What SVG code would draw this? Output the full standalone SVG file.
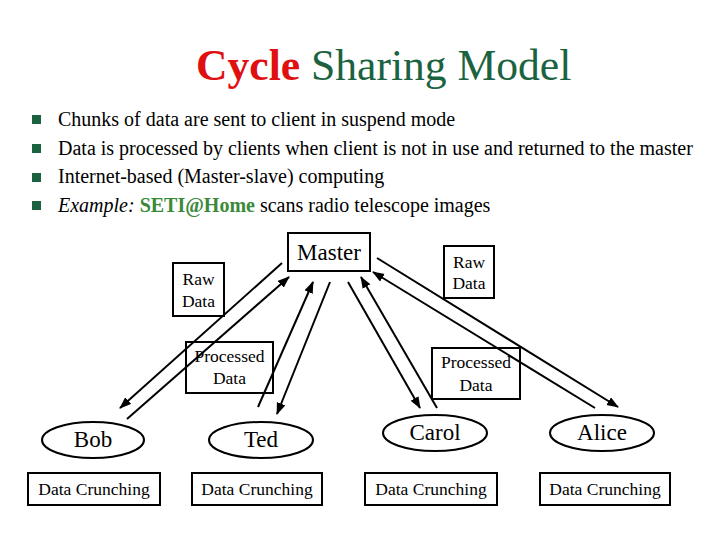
<svg xmlns="http://www.w3.org/2000/svg" width="720" height="540" viewBox="0 0 720 540" font-family="'Liberation Serif', 'Times New Roman', serif">
<defs>
<marker id="ah" markerUnits="userSpaceOnUse" markerWidth="12" markerHeight="10" refX="11" refY="4.5" orient="auto">
<path d="M0,0 L12,4.5 L0,9 Z" fill="#000"/>
</marker>
<style>
.t{font-size:43.6px;fill:#1b6340}
.red{fill:#e01010;font-weight:bold}
.b{font-size:20px}
.bul{fill:#1b6340}
.box{fill:#fff;stroke:#000;stroke-width:2}
.lbl{fill:none;stroke:#000;stroke-width:2}
.s{font-size:17.5px;text-anchor:middle}
.m{font-size:23px;text-anchor:middle}
.c line{stroke:#000;stroke-width:2;marker-end:url(#ah)}
</style>
</defs>
<rect width="720" height="540" fill="#fff"/>
<g id="title"><text class="t" x="196" y="80"><tspan class="red">Cycle</tspan> Sharing Model</text></g>
<g id="bullets">
<rect class="bul" x="32" y="115" width="9" height="9"/>
<rect class="bul" x="32" y="144" width="9" height="9"/>
<rect class="bul" x="32" y="173" width="9" height="9"/>
<rect class="bul" x="32" y="201" width="9" height="9"/>
<text class="b" x="58" y="126">Chunks of data are sent to client in suspend mode</text>
<text class="b" x="58" y="155">Data is processed by clients when client is not in use and returned to the master</text>
<text class="b" x="58" y="183">Internet-based (Master-slave) computing</text>
<text class="b" x="58" y="212"><tspan font-style="italic">Example:</tspan> <tspan font-weight="bold" fill="#3a8a3a">SETI@Home</tspan> scans radio telescope images</text>
</g>
<g class="c" id="connectors">
<line x1="282" y1="263" x2="120" y2="408"/>
<line x1="127" y1="419" x2="289" y2="277"/>
<line x1="258" y1="407" x2="313" y2="282"/>
<line x1="330" y1="282" x2="277" y2="414"/>
<line x1="348" y1="282" x2="420" y2="408"/>
<line x1="437" y1="408" x2="361" y2="277"/>
<line x1="377" y1="258" x2="618" y2="407"/>
<line x1="595" y1="408" x2="373" y2="272"/>
</g>
<g id="master"><rect class="box" x="288" y="233" width="82" height="38"/><text class="m" x="329" y="260">Master</text></g>
<g id="raw-left"><rect class="lbl" x="173" y="263" width="51" height="53"/><text class="s" x="198.5" y="285">Raw</text><text class="s" x="198.5" y="306.5">Data</text></g>
<g id="processed-left"><rect class="lbl" x="186" y="342" width="87" height="51"/><text class="s" x="229.5" y="362">Processed</text><text class="s" x="229.5" y="384">Data</text></g>
<g id="raw-right"><rect class="lbl" x="444" y="246" width="50" height="52"/><text class="s" x="469" y="267.5">Raw</text><text class="s" x="469" y="289">Data</text></g>
<g id="processed-right"><rect class="lbl" x="432" y="348" width="88" height="51"/><text class="s" x="476" y="368">Processed</text><text class="s" x="476" y="390.5">Data</text></g>
<g id="bob"><ellipse class="lbl" cx="93" cy="440" rx="51" ry="18"/><text class="m" x="93" y="447">Bob</text></g>
<g id="ted"><ellipse class="lbl" cx="261" cy="440" rx="52" ry="18"/><text class="m" x="261" y="447">Ted</text></g>
<g id="carol"><ellipse class="lbl" cx="435" cy="433" rx="52" ry="18"/><text class="m" x="435" y="440">Carol</text></g>
<g id="alice"><ellipse class="lbl" cx="602" cy="433" rx="52" ry="18"/><text class="m" x="602" y="440">Alice</text></g>
<g id="dc-bob"><rect class="lbl" x="28" y="473" width="132" height="32"/><text class="s" x="94" y="495">Data Crunching</text></g>
<g id="dc-ted"><rect class="lbl" x="192" y="473" width="130" height="32"/><text class="s" x="257" y="495">Data Crunching</text></g>
<g id="dc-carol"><rect class="lbl" x="365" y="473" width="132" height="32"/><text class="s" x="431" y="495">Data Crunching</text></g>
<g id="dc-alice"><rect class="lbl" x="540" y="473" width="130" height="32"/><text class="s" x="605" y="495">Data Crunching</text></g>
</svg>
